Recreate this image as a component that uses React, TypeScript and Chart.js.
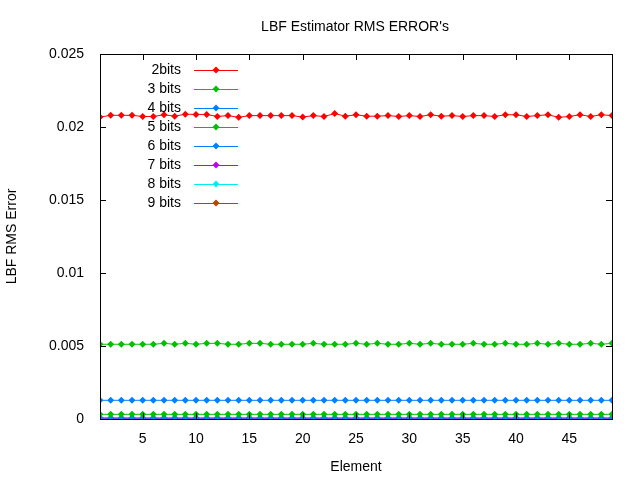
import { useEffect, useRef } from "react";
import { Chart, registerables } from "chart.js";

Chart.register(...registerables);

const elements = Array.from({ length: 49 }, (_, i) => i + 1);

const bits2 = [
  0.02068, 0.02080, 0.02080, 0.02080, 0.02072, 0.02072, 0.02084, 0.02074, 0.02088, 0.02086,
  0.02086, 0.02072, 0.02078, 0.02066, 0.02078, 0.02078, 0.02078, 0.02078, 0.02078, 0.02068,
  0.02078, 0.02072, 0.02092, 0.02074, 0.02084, 0.02074, 0.02074, 0.02078, 0.02072, 0.02078,
  0.02072, 0.02084, 0.02074, 0.02078, 0.02072, 0.02078, 0.02078, 0.02072, 0.02084, 0.02084,
  0.02072, 0.02078, 0.02084, 0.02066, 0.02072, 0.02084, 0.02072, 0.02084, 0.02078,
];
const bits3 = [
  0.00512, 0.00512, 0.00512, 0.00512, 0.00512, 0.00512, 0.00518, 0.00512, 0.00518, 0.00512,
  0.00518, 0.00518, 0.00512, 0.00512, 0.00518, 0.00518, 0.00512, 0.00512, 0.00512, 0.00512,
  0.00518, 0.00512, 0.00512, 0.00512, 0.00518, 0.00512, 0.00518, 0.00512, 0.00512, 0.00518,
  0.00512, 0.00518, 0.00512, 0.00512, 0.00512, 0.00518, 0.00512, 0.00512, 0.00518, 0.00512,
  0.00512, 0.00518, 0.00512, 0.00518, 0.00512, 0.00512, 0.00518, 0.00512, 0.00518,
];
const bits4 = elements.map(() => 0.00128);
const bits5 = elements.map(() => 0.00032);
const bits6 = elements.map(() => 0.00008);
const bits7 = elements.map(() => 0.00002);
const bits8 = elements.map(() => 0.000005);
const bits9 = elements.map(() => 0.0000015);

const seriesNames = ["2bits", "3 bits", "4 bits", "5 bits", "6 bits", "7 bits", "8 bits", "9 bits"];
const seriesColors = ["#ff0000", "#00c000", "#0080ff", "#00c000", "#0080ff", "#c000ff", "#00eeee", "#c04000"];
const seriesValues = [bits2, bits3, bits4, bits5, bits6, bits7, bits8, bits9];
const yTicks = [0, 0.005, 0.01, 0.015, 0.02, 0.025];
const xTicks = [5, 10, 15, 20, 25, 30, 35, 40, 45];

const FONT = "'Liberation Sans', Arial, sans-serif";

const gnuplotLook = {
  id: "gnuplotLook",
  afterDraw(chart: Chart) {
    const { ctx, chartArea: a, scales } = chart;
    ctx.save();
    ctx.strokeStyle = "#000";
    ctx.lineWidth = 1;
    ctx.strokeRect(a.left + 0.5, a.top + 0.5, a.right - a.left, a.bottom - a.top);
    ctx.beginPath();
    for (const v of yTicks) {
      const y = Math.round(scales.y.getPixelForValue(v)) + 0.5;
      ctx.moveTo(a.left, y); ctx.lineTo(a.left + 6, y);
      ctx.moveTo(a.right, y); ctx.lineTo(a.right - 6, y);
    }
    for (const v of xTicks) {
      const x = Math.round(scales.x.getPixelForValue(v)) + 0.5;
      ctx.moveTo(x, a.bottom); ctx.lineTo(x, a.bottom - 6);
      ctx.moveTo(x, a.top); ctx.lineTo(x, a.top + 6);
    }
    ctx.stroke();

    ctx.fillStyle = "#000";
    ctx.font = `14px ${FONT}`;
    ctx.textAlign = "center";
    ctx.textBaseline = "middle";
    ctx.fillText("LBF Estimator RMS ERROR's", 355, 27);

    ctx.font = `14px ${FONT}`;
    ctx.textAlign = "right";
    seriesNames.forEach((name, i) => {
      const y = 70 + i * 19;
      ctx.fillStyle = "#000";
      ctx.fillText(name, 181, y);
      ctx.strokeStyle = seriesColors[i];
      ctx.beginPath();
      ctx.moveTo(194, y + 0.5); ctx.lineTo(238, y + 0.5);
      ctx.stroke();
      ctx.fillStyle = seriesColors[i];
      ctx.beginPath();
      ctx.moveTo(216, y - 3.5); ctx.lineTo(219.5, y); ctx.lineTo(216, y + 3.5); ctx.lineTo(212.5, y);
      ctx.closePath();
      ctx.fill();
    });
    ctx.restore();
  },
};

export default function App() {
  const canvasRef = useRef<HTMLCanvasElement>(null);

  useEffect(() => {
    if (!canvasRef.current) return;
    const chart = new Chart(canvasRef.current, {
      type: "line",
      data: {
        datasets: seriesValues.map((vals, i) => ({
          label: seriesNames[i],
          data: vals.map((v, j) => ({ x: elements[j], y: v })),
          borderColor: seriesColors[i],
          backgroundColor: seriesColors[i],
          borderWidth: 1,
          pointStyle: "rectRot",
          pointRadius: 3.5,
          pointBorderWidth: 0,
        })),
      },
      options: {
        animation: false,
        responsive: false,
        layout: { padding: { top: 54, right: 28, left: 0, bottom: 0 } },
        plugins: { legend: { display: false }, tooltip: { enabled: false } },
        scales: {
          x: {
            type: "linear",
            min: 1,
            max: 49,
            afterBuildTicks: (s: any) => { s.ticks = xTicks.map((v) => ({ value: v })); },
            afterFit: (s: any) => { s.height = 61; },
            grid: { display: false },
            border: { display: false },
            ticks: { color: "#000", font: { family: FONT, size: 14 }, padding: 4 },
            title: { display: true, text: "Element", color: "#000", font: { family: FONT, size: 14 }, padding: { top: 8 } },
          },
          y: {
            min: 0,
            max: 0.025,
            afterBuildTicks: (s: any) => { s.ticks = yTicks.map((v) => ({ value: v })); },
            afterFit: (s: any) => { s.width = 100; },
            grid: { display: false },
            border: { display: false },
            ticks: { color: "#000", font: { family: FONT, size: 14 }, padding: 8, callback: (v: any) => String(v) },
            title: { display: true, text: "LBF RMS Error", color: "#000", font: { family: FONT, size: 14 }, padding: { bottom: 0 } },
          },
        },
      },
      plugins: [gnuplotLook],
    });
    return () => chart.destroy();
  }, []);

  return (
    <div style={{ position: "fixed", left: 0, top: 0, width: 640, height: 480, background: "#fff" }}>
      <canvas ref={canvasRef} width={640} height={480} style={{ width: 640, height: 480 }} />
    </div>
  );
}
